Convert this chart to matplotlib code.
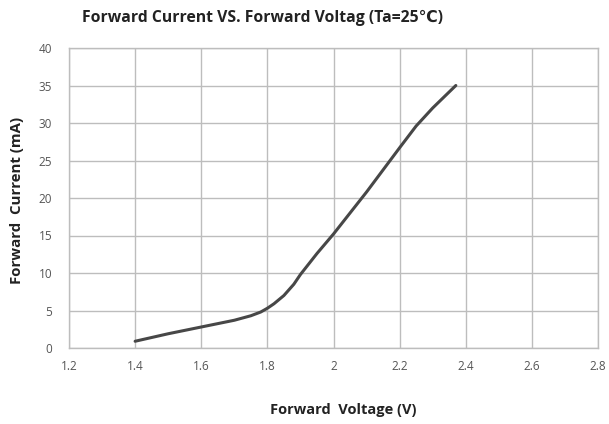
import numpy as np
import matplotlib.pyplot as plt

# forward voltage (V) vs forward current (mA)
voltage = [1.40, 1.50, 1.60, 1.70, 1.75, 1.78, 1.80, 1.82, 1.85, 1.88, 1.90,
           1.95, 2.00, 2.10, 2.20, 2.25, 2.30, 2.37]
current = [0.9, 1.9, 2.8, 3.7, 4.3, 4.8, 5.3, 5.9, 7.0, 8.5, 9.8,
           12.6, 15.2, 20.8, 26.7, 29.6, 32.0, 35.0]

x_ticks = [1.2, 1.4, 1.6, 1.8, 2.0, 2.2, 2.4, 2.6, 2.8]
x_tick_labels = ["1.2", "1.4", "1.6", "1.8", "2", "2.2", "2.4", "2.6", "2.8"]
y_ticks = [0, 5, 10, 15, 20, 25, 30, 35, 40]

plt.rcParams['font.family'] = ['Open Sans', 'DejaVu Sans']

fig = plt.figure(figsize=(6.09, 4.24), dpi=100)
ax = fig.add_axes([69 / 609, 76 / 424, 529 / 609, 300 / 424])

grid_col = "#bdbdbd"
ax.plot(voltage, current, color="#474747", lw=2.2, solid_capstyle="round",
        solid_joinstyle="round")

ax.set_xlim(1.2, 2.8)
ax.set_ylim(0, 40)
ax.set_xticks(x_ticks)
ax.set_xticklabels(x_tick_labels)
ax.set_yticks(y_ticks)
ax.grid(True, color=grid_col, lw=1.0)
ax.set_axisbelow(True)
for s in ax.spines.values():
    s.set_color(grid_col)
    s.set_linewidth(1.0)
ax.tick_params(length=0, labelsize=8.5, labelcolor="#555555")
ax.tick_params(axis="x", pad=9)
ax.tick_params(axis="y", pad=12)

fig.text(262 / 609, 1 - 18 / 424, "Forward Current VS. Forward Voltag (Ta=25℃)",
         ha="center", va="center", fontsize=11.3, fontweight="bold", color="#222222")
fig.text(343 / 609, 1 - 410 / 424, "Forward  Voltage (V)",
         ha="center", va="center", fontsize=10.5, fontweight="bold", color="#222222")
fig.text(17 / 609, 1 - 200 / 424, "Forward  Current (mA)", rotation=90,
         ha="center", va="center", fontsize=10.8, fontweight="bold", color="#222222")

fig.savefig("out.png", dpi=100, facecolor="white")
